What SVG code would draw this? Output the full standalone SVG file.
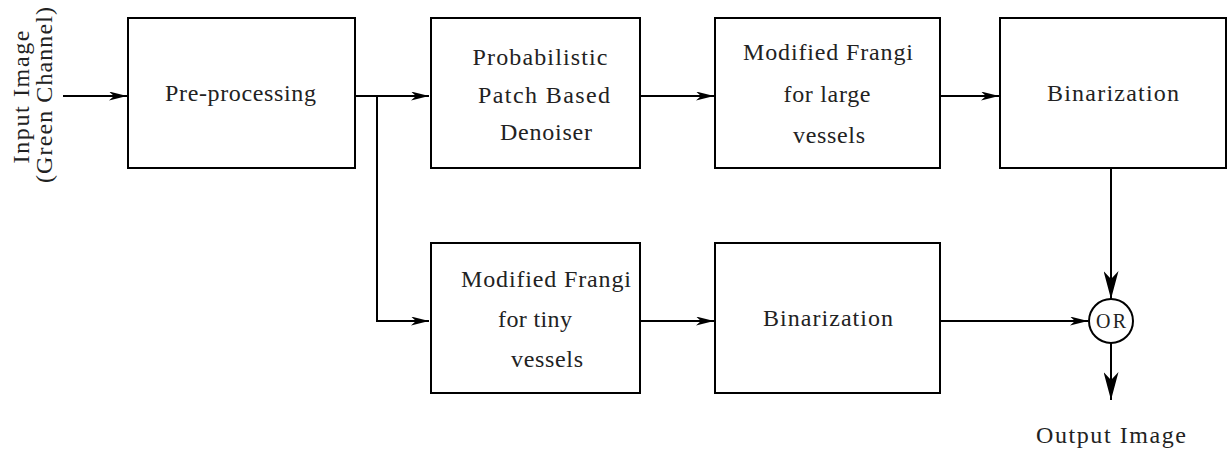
<svg xmlns="http://www.w3.org/2000/svg" width="1227" height="449" viewBox="0 0 1227 449">
<style>
.box{fill:#fff;stroke:#000;stroke-width:2}
.ln{fill:none;stroke:#000;stroke-width:2}
.lbl{font-family:"Liberation Serif","DejaVu Serif",serif;font-size:24px;fill:#222;text-anchor:middle}
.orl{font-size:20px}
</style>
<defs>
<marker id="ah" viewBox="0 0 18 9" refX="18" refY="4.5" markerWidth="18" markerHeight="9" markerUnits="userSpaceOnUse" orient="auto">
<path d="M0,0 L18,4.5 L0,9 L5,4.5 Z" fill="#000"/>
</marker>
<marker id="ahv" viewBox="0 0 28 15" refX="28" refY="7.5" markerWidth="28" markerHeight="15" markerUnits="userSpaceOnUse" orient="auto">
<path d="M0,0 L28,7.5 L0,15 L8,7.5 Z" fill="#000"/>
</marker>
</defs>
<g id="connectors">
<path class="ln" d="M63,96 H127" marker-end="url(#ah)"/>
<path class="ln" d="M355,96 H429" marker-end="url(#ah)"/>
<path class="ln" d="M377,96 V321 H429" marker-end="url(#ah)"/>
<path class="ln" d="M640,96 H714" marker-end="url(#ah)"/>
<path class="ln" d="M940,96 H999" marker-end="url(#ah)"/>
<path class="ln" d="M640,321 H714" marker-end="url(#ah)"/>
<path class="ln" d="M940,321 H1088" marker-end="url(#ah)"/>
<path class="ln" d="M1111,168 V299" marker-end="url(#ahv)"/>
<path class="ln" d="M1111,343 V400" marker-end="url(#ahv)"/>
</g>
<g id="input">
<text class="lbl" transform="translate(29,97) rotate(-90)" textLength="133" lengthAdjust="spacing">Input Image</text>
<text class="lbl" transform="translate(52,95) rotate(-90)" textLength="176" lengthAdjust="spacing">(Green Channel)</text>
</g>
<g id="preprocessing">
<rect class="box" x="128" y="18" width="227" height="150"/>
<text class="lbl" x="240.5" y="101" textLength="151" lengthAdjust="spacing">Pre-processing</text>
</g>
<g id="denoiser">
<rect class="box" x="431" y="18" width="209" height="150"/>
<text class="lbl" x="540" y="65" textLength="135" lengthAdjust="spacing">Probabilistic</text>
<text class="lbl" x="544" y="103" textLength="132" lengthAdjust="spacing">Patch Based</text>
<text class="lbl" x="546" y="140" textLength="92" lengthAdjust="spacing">Denoiser</text>
</g>
<g id="frangi-large">
<rect class="box" x="715" y="18" width="225" height="150"/>
<text class="lbl" x="828" y="60" textLength="170" lengthAdjust="spacing">Modified Frangi</text>
<text class="lbl" x="827" y="102" textLength="87" lengthAdjust="spacing">for large</text>
<text class="lbl" x="829" y="143" textLength="72" lengthAdjust="spacing">vessels</text>
</g>
<g id="binarization-top">
<rect class="box" x="1000" y="18" width="226" height="150"/>
<text class="lbl" x="1113" y="101" textLength="132" lengthAdjust="spacing">Binarization</text>
</g>
<g id="frangi-tiny">
<rect class="box" x="431" y="243" width="209" height="150"/>
<text class="lbl" x="546" y="287" textLength="170" lengthAdjust="spacing">Modified Frangi</text>
<text class="lbl" x="535" y="327" textLength="74" lengthAdjust="spacing">for tiny</text>
<text class="lbl" x="547" y="367" textLength="72" lengthAdjust="spacing">vessels</text>
</g>
<g id="binarization-bottom">
<rect class="box" x="715" y="243" width="225" height="150"/>
<text class="lbl" x="828" y="326" textLength="130" lengthAdjust="spacing">Binarization</text>
</g>
<g id="or">
<circle class="box" cx="1111" cy="321" r="22"/>
<text class="lbl orl" x="1111" y="328" textLength="30" lengthAdjust="spacing">OR</text>
</g>
<g id="output">
<text class="lbl" x="1111" y="443" textLength="150" lengthAdjust="spacing">Output Image</text>
</g>
</svg>
